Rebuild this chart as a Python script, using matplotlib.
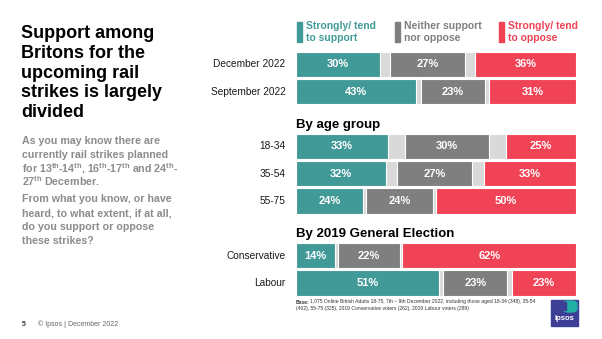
import matplotlib

matplotlib.use("Agg")
import matplotlib.pyplot as plt
from matplotlib.patches import Rectangle, FancyBboxPatch

plt.rcParams["font.family"] = ["Liberation Sans", "DejaVu Sans"]
plt.rcParams["mathtext.fontset"] = "custom"
plt.rcParams["mathtext.rm"] = "Liberation Sans"
plt.rcParams["mathtext.bf"] = "Liberation Sans:bold"

# Survey results (percent)
rows = ["December 2022", "September 2022", "18-34", "35-54", "55-75", "Conservative", "Labour"]
row_pos = [0, 1, 3, 4, 5, 7, 8]
support = [30, 43, 33, 32, 24, 14, 51]
neither = [27, 23, 30, 27, 24, 22, 23]
oppose = [36, 31, 25, 33, 50, 62, 23]

headings = ["By age group", "By 2019 General Election"]
heading_pos = [2, 6]

legend_labels = ["Strongly/ tend\nto support", "Neither support\nnor oppose", "Strongly/ tend\nto oppose"]

title_lines = ["Support among", "Britons for the", "upcoming rail", "strikes is largely", "divided"]
intro_lines = [
    "As you may know there are",
    "currently rail strikes planned",
    r"for 13$^{\mathbf{th}}$-14$^{\mathbf{th}}$, 16$^{\mathbf{th}}$-17$^{\mathbf{th}}$ and 24$^{\mathbf{th}}$-",
    r"27$^{\mathbf{th}}$ December.",
]
question_lines = [
    "From what you know, or have",
    "heard, to what extent, if at all,",
    "do you support or oppose",
    "these strikes?",
]

TEAL = "#419a98"
GREY = "#7f7f7f"
RED = "#f04356"
LIGHT = "#d9d9d9"
TEXT_GREY = "#8c8c8c"

W, H = 602, 339
fig = plt.figure(figsize=(W / 100, H / 100), dpi=100)


def px(x, y):
    """Pixel position (from top-left) to figure fraction."""
    return x / W, 1 - y / H


ax = fig.add_axes([296 / W, 1 - 296.6 / H, 280 / W, 245.8 / H])
ax.set_xlim(0, 100)
ax.set_ylim(8.5, -0.5)
ax.axis("off")

bh = 0.92
for y, s, n, o, label in zip(row_pos, support, neither, oppose, rows):
    # light grey band for the remainder (don't know)
    ax.barh(y, 100, left=0, height=bh, color=LIGHT, edgecolor="white", linewidth=0.8)
    ax.barh(y, s, left=0, height=bh, color=TEAL, edgecolor="white", linewidth=0.8)
    ax.barh(y, o, left=100 - o, height=bh, color=RED, edgecolor="white", linewidth=0.8)
    # neutral segment centred in the gap between support and oppose
    n_left = (s + 100 - o) / 2 - n / 2
    ax.barh(y, n, left=n_left, height=bh, color=GREY, edgecolor="white", linewidth=0.8)

    kw = dict(color="white", fontsize=8, fontweight="bold", ha="center", va="center")
    ax.text(s / 2, y, f"{s}%", **kw)
    ax.text(n_left + n / 2, y, f"{n}%", **kw)
    ax.text(100 - o / 2, y, f"{o}%", **kw)
    ax.text(-3.8, y, label, ha="right", va="center", fontsize=7.3, color="#1a1a1a")

for y, h in zip(heading_pos, headings):
    ax.text(0, y + 0.2, h, ha="left", va="center", fontsize=9.5, fontweight="bold", color="black")

# legend
for x0, lab, col in zip([297, 395, 499], legend_labels, [TEAL, GREY, RED]):
    fig.patches.append(Rectangle(px(x0, 42), 4.5 / W, 20 / H,
                                 transform=fig.transFigure, color=col))
    fig.text(*px(x0 + 9, 32), lab, ha="left", va="center", fontsize=7.5,
             fontweight="bold", color=col, linespacing=1.15)

# title, one line at a time for even spacing
for i, line in enumerate(title_lines):
    fig.text(*px(21, 38 + i * 19.8), line, ha="left", va="baseline", fontsize=13,
             fontweight="bold", color="black")

for i, line in enumerate(intro_lines):
    fig.text(*px(22, 143.5 + i * 14.3), line, ha="left", va="baseline", fontsize=7.7,
             fontweight="bold", color=TEXT_GREY)
for i, line in enumerate(question_lines):
    fig.text(*px(22, 202.5 + i * 14), line, ha="left", va="baseline", fontsize=7.7,
             fontweight="bold", color=TEXT_GREY)

# base note
fig.text(*px(296, 302), "Base:", ha="left", va="center", fontsize=3.6,
         fontweight="bold", color="#333333")
fig.text(*px(310, 302),
         "1,075 Online British Adults 18-75, 7th – 9th December 2022, including those aged 18-34 (348), 35-54",
         ha="left", va="center", fontsize=3.6, color="#333333")
fig.text(*px(296, 308.5),
         "(402), 55-75 (325), 2019 Conservative voters (262), 2019 Labour voters (289)",
         ha="left", va="center", fontsize=3.6, color="#333333")

# footer
fig.text(*px(22, 324), "5", ha="left", va="center", fontsize=5, fontweight="bold", color="#333333")
fig.text(*px(38, 324), "© Ipsos | December 2022", ha="left", va="center",
         fontsize=5, color="#666666")

# logo
fig.patches.append(Rectangle(px(551, 326), 27 / W, 26 / H,
                             transform=fig.transFigure, color="#3d3f96"))
fig.patches.append(FancyBboxPatch(px(563, 312), 14 / W, 11 / H,
                                  boxstyle="round,pad=0,rounding_size=0.01",
                                  transform=fig.transFigure, color="#21b1a4"))
fig.patches.append(Rectangle(px(561, 310), 5 / W, 8 / H,
                             transform=fig.transFigure, color="#3d3f96"))
fig.text(*px(564.5, 319), "Ipsos", ha="center", va="center", fontsize=5.5,
         fontweight="bold", color="white")

fig.savefig("out.png", dpi=100)
